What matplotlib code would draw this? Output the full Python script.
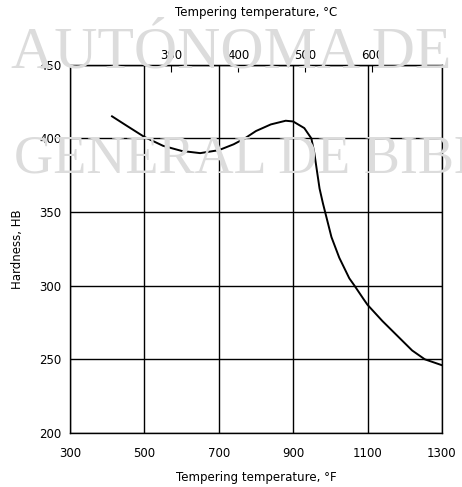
import numpy as np
import matplotlib.pyplot as plt

# hardness curve (deg F, HB)
temp_f = [413, 450, 500, 550, 600, 650, 700, 740, 770, 800, 840, 880, 900,
          930, 949, 957, 964, 971, 980, 990, 1003, 1024, 1051, 1065, 1089,
          1100, 1140, 1184, 1220, 1254, 1300]
hardness = [415, 409, 401, 395, 391.5, 390, 392, 396, 400, 405, 409.5, 412, 411.5,
            407, 400, 390, 378, 366, 356, 346, 333, 319, 305, 300, 291,
            287, 276, 265, 256, 250, 246]

x_ticks = [300, 500, 700, 900, 1100, 1300]
y_ticks = [200, 250, 300, 350, 400, 450]
c_ticks = [300, 400, 500, 600]

fig = plt.figure(figsize=(4.62, 4.87), dpi=100)

# faint library watermark behind the chart
fig.text(0.024, 0.860, "AUTÓNOMA DE NUEVO", family="Liberation Serif", fontsize=43,
         color="#dcdcdc", zorder=0)
fig.text(0.030, 0.645, "GENERAL DE BIBLIOTECAS", family="Liberation Serif", fontsize=39,
         color="#dcdcdc", zorder=0)

ax = fig.add_axes([0.1515, 0.111, 0.805, 0.756])
ax.patch.set_alpha(0)
ax.set_xlim(300, 1300)
ax.set_ylim(200, 450)
ax.set_xticks(x_ticks)
ax.set_yticks(y_ticks)
ax.grid(True, color="black", linewidth=1.0)
ax.tick_params(length=0, labelsize=8.5)
ax.tick_params(axis="x", pad=10)
ax.tick_params(axis="y", pad=6)
for s in ax.spines.values():
    s.set_linewidth(1.0)

ax.plot(temp_f, hardness, color="black", linewidth=1.4)

ax.set_xlabel("Tempering temperature, °F", fontsize=8.5, va="center")
ax.xaxis.set_label_coords(0.5, -0.12)
ax.set_ylabel("Hardness, HB", fontsize=8.5, va="center")
ax.yaxis.set_label_coords(-0.14, 0.5)

# top axis in deg C
top = ax.secondary_xaxis("top", functions=(lambda f: (f - 32) / 1.8,
                                           lambda c: c * 1.8 + 32))
top.set_xticks(c_ticks)
top.tick_params(direction="in", length=5, labelsize=8.5, pad=2)
top.set_xlabel("Tempering temperature, °C", fontsize=8.5, labelpad=24)

fig.savefig("out.png", dpi=100)
